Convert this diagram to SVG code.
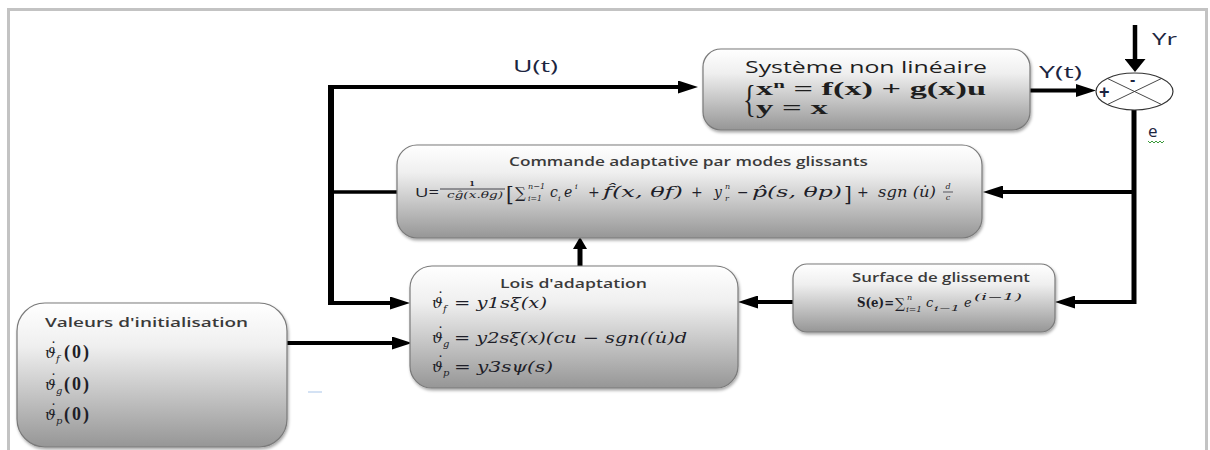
<svg xmlns="http://www.w3.org/2000/svg" width="1210" height="450" viewBox="0 0 1210 450">
<defs>
<linearGradient id="gb" x1="0" y1="0" x2="0" y2="1">
<stop offset="0" stop-color="#ffffff"/>
<stop offset="0.3" stop-color="#efefef"/>
<stop offset="1" stop-color="#969696"/>
</linearGradient>
<filter id="sh" x="-5%" y="-5%" width="112%" height="125%">
<feDropShadow dx="1" dy="2" stdDeviation="1.5" flood-color="#000" flood-opacity="0.35"/>
</filter>
<marker id="ah" markerUnits="userSpaceOnUse" viewBox="0 0 20 13" markerWidth="20" markerHeight="13" refX="0" refY="6.5" orient="auto">
<path d="M0,0 L20,6.5 L0,13 Z" fill="#000"/>
</marker>
<marker id="ahs" markerUnits="userSpaceOnUse" viewBox="0 0 12 14" markerWidth="12" markerHeight="14" refX="0" refY="7" orient="auto">
<path d="M0,0 L12,7 L0,14 Z" fill="#000"/>
</marker>
<marker id="ahw" markerUnits="userSpaceOnUse" viewBox="0 0 13 21" markerWidth="13" markerHeight="21" refX="0" refY="10.5" orient="auto">
<path d="M0,0 L13,10.5 L0,21 Z" fill="#000"/>
</marker>
</defs>
<style>
.box{fill:url(#gb);stroke:#7a7a7a;stroke-width:1.2;filter:url(#sh)}
.ln{fill:none;stroke:#000;stroke-width:4}
.ttl{font-family:"Open Sans","Liberation Sans",sans-serif;font-weight:600;fill:#3a3a3a;font-size:13px}
.m{font-family:"DejaVu Serif","Liberation Serif",serif;font-style:italic;fill:#1e1e28}
.r{font-family:"DejaVu Serif","Liberation Serif",serif;fill:#1e1e28}
.z{font-family:"Liberation Serif",serif;font-style:normal;font-weight:bold;font-size:18px;letter-spacing:2px}
.dot{font-style:normal}
.sb{font-size:10px}
.lbl{font-family:"Open Sans","Liberation Sans",sans-serif;fill:#1c2540;font-size:17px}
</style>

<rect x="8.5" y="9.5" width="1198" height="460" fill="none" stroke="#c3c3c3" stroke-width="3"/>

<g id="connectors">
<path class="ln" d="M331,85 V305" style="stroke-width:6"/>
<path class="ln" d="M328,87 H678" marker-end="url(#ah)"/>
<path class="ln" d="M331,192 H397" style="stroke-width:3.5"/>
<path class="ln" d="M331,303 H390" marker-end="url(#ah)"/>
<path class="ln" d="M287,343 H392" marker-end="url(#ah)"/>
<path class="ln" d="M580,266 V249" style="stroke-width:5" marker-end="url(#ahs)"/>
<path class="ln" d="M1030,90.5 H1076" marker-end="url(#ah)"/>
<path class="ln" d="M1135,25 V59" style="stroke-width:4.5" marker-end="url(#ahw)"/>
<path class="ln" d="M1134,110 V304" style="stroke-width:5"/>
<path class="ln" d="M1136,192 H1003" marker-end="url(#ah)"/>
<path class="ln" d="M1136,302 H1075" marker-end="url(#ah)"/>
<path class="ln" d="M793,302 H758" marker-end="url(#ah)"/>
</g>

<g id="labels">
<text class="lbl" x="513" y="72" textLength="45" lengthAdjust="spacingAndGlyphs">U(t)</text>
<text class="lbl" x="1039" y="78" textLength="43" lengthAdjust="spacingAndGlyphs">Y(t)</text>
<text class="lbl" x="1152" y="45" textLength="25" lengthAdjust="spacingAndGlyphs">Yr</text>
<text class="lbl" x="1148" y="137">e</text>
<polyline points="1148,141 1150,143 1152,141 1154,143 1156,141 1158,143 1160,141 1162,143 1164,141" fill="none" stroke="#3a9a3a" stroke-width="1"/>
<line x1="308" y1="392" x2="322" y2="392" stroke="#c6d9f0" stroke-width="1.5"/>
</g>

<g id="sum">
<ellipse cx="1134.5" cy="91.5" rx="38.5" ry="18.5" fill="#fff" stroke="#333" stroke-width="1.2"/>
<line x1="1107.3" y1="78.4" x2="1161.7" y2="104.6" stroke="#333" stroke-width="0.9"/>
<line x1="1107.3" y1="104.6" x2="1161.7" y2="78.4" stroke="#333" stroke-width="0.9"/>
<text x="1099" y="98" font-family="Liberation Sans, sans-serif" font-weight="bold" font-size="18" fill="#1c2540">+</text>
<text x="1130" y="85" font-family="Liberation Sans, sans-serif" font-weight="bold" font-size="16" fill="#1c2540">-</text>
</g>

<g id="sys">
<rect class="box" x="703" y="49" width="327" height="81" rx="18"/>
<text x="745" y="73" font-family="Open Sans, Liberation Sans, sans-serif" font-size="17" fill="#1e1e1e" textLength="242" lengthAdjust="spacingAndGlyphs">Système non linéaire</text>
<text x="743" y="112" font-family="Liberation Serif, serif" font-size="38" fill="#1e1e1e" transform="translate(743 112) scale(0.7 1) translate(-743 -112)">{</text>
<text x="756" y="95" font-family="Liberation Serif, serif" font-weight="bold" font-size="18" fill="#1e1e1e" textLength="230" lengthAdjust="spacingAndGlyphs">x<tspan font-size="11" dy="-7">n</tspan><tspan dy="7"> = f(x) +  g(x)u</tspan></text>
<text x="756" y="114" font-family="Liberation Serif, serif" font-weight="bold" font-size="18" fill="#1e1e1e" textLength="72" lengthAdjust="spacingAndGlyphs">y = x</text>
</g>

<g id="cmd">
<rect class="box" x="397" y="145" width="585" height="93" rx="20"/>
<text class="ttl" x="509" y="166" textLength="359" lengthAdjust="spacingAndGlyphs">Commande adaptative par modes glissants</text>
<text x="415" y="197" font-family="Open Sans, Liberation Sans, sans-serif" font-size="13" fill="#1e1e28" textLength="24" lengthAdjust="spacingAndGlyphs">U=</text>
<text class="r" x="472" y="186" font-size="8" font-weight="bold" text-anchor="middle">1</text>
<line x1="440" y1="189" x2="505" y2="189" stroke="#1e1e28" stroke-width="0.8"/>
<text class="m" x="447" y="198" font-size="8.5" textLength="56" lengthAdjust="spacingAndGlyphs">cĝ(x.θg)</text>
<text class="r" x="506" y="201" font-size="20">[</text>
<text class="r" x="515" y="198" font-size="15">∑</text>
<text class="m" x="528" y="189" font-size="8" textLength="17" lengthAdjust="spacingAndGlyphs">n−1</text>
<text class="m" x="528" y="201" font-size="8" textLength="14" lengthAdjust="spacingAndGlyphs">i=1</text>
<text class="m" x="550" y="197" font-size="14">c</text>
<text class="m" x="558" y="201" font-size="8">i</text>
<text class="m" x="564" y="197" font-size="14">e</text>
<text class="m" x="575" y="189" font-size="8">i</text>
<text class="r" x="588" y="197" font-size="14">+</text>
<text class="m" x="603" y="197" font-size="14" textLength="80" lengthAdjust="spacingAndGlyphs">f̂(x, θf)</text>
<text class="r" x="691" y="197" font-size="14">+</text>
<text class="m" x="714" y="197" font-size="14">y</text>
<text class="m" x="725" y="189" font-size="8">n</text>
<text class="m" x="725" y="201" font-size="8">r</text>
<text class="r" x="737" y="197" font-size="14">−</text>
<text class="m" x="752" y="197" font-size="14" textLength="90" lengthAdjust="spacingAndGlyphs">p̂(s, θp)</text>
<text class="r" x="844" y="201" font-size="20">]</text>
<text class="r" x="857" y="197" font-size="14">+</text>
<text class="m" x="878" y="197" font-size="14" textLength="58" lengthAdjust="spacingAndGlyphs">sgn (u̇)</text>
<text class="m" x="948" y="189" font-size="8" text-anchor="middle">d</text>
<line x1="943" y1="192" x2="953" y2="192" stroke="#1e1e28" stroke-width="0.7"/>
<text class="m" x="948" y="200" font-size="8" text-anchor="middle">c</text>
</g>

<g id="lois">
<rect class="box" x="410" y="266" width="328" height="122" rx="22"/>
<text class="ttl" x="500" y="288" textLength="147" lengthAdjust="spacingAndGlyphs">Lois d'adaptation</text>
<text class="m" x="432" y="308" font-size="15">ϑ<tspan class="dot" dx="-6" dy="-5">˙</tspan><tspan class="sb" x="443" y="312">f</tspan></text>
<text class="m" x="454" y="308" font-size="15" textLength="93" lengthAdjust="spacingAndGlyphs">= y1sξ(x)</text>
<text class="m" x="432" y="343" font-size="15">ϑ<tspan class="dot" dx="-6" dy="-5">˙</tspan><tspan class="sb" x="443" y="347">g</tspan></text>
<text class="m" x="454" y="343" font-size="15" textLength="233" lengthAdjust="spacingAndGlyphs">= y2sξ(x)(cu − sgn((u̇)d</text>
<text class="m" x="432" y="372" font-size="15">ϑ<tspan class="dot" dx="-6" dy="-5">˙</tspan><tspan class="sb" x="443" y="376">p</tspan></text>
<text class="m" x="454" y="372" font-size="15" textLength="99" lengthAdjust="spacingAndGlyphs">= y3sψ(s)</text>
</g>

<g id="surf">
<rect class="box" x="793" y="264" width="262" height="68" rx="14"/>
<text class="ttl" x="852" y="282" textLength="178" lengthAdjust="spacingAndGlyphs">Surface de glissement</text>
<text class="r" x="857" y="307" font-size="12" font-weight="bold" textLength="37" lengthAdjust="spacingAndGlyphs">S(e)=</text>
<text class="r" x="895" y="308" font-size="14">∑</text>
<text class="m" x="907" y="300" font-size="8">n</text>
<text class="m" x="906" y="312" font-size="8" textLength="16" lengthAdjust="spacingAndGlyphs">i=1</text>
<text class="m" x="926" y="307" font-size="13">c</text>
<text class="m" x="934" y="311" font-size="8" textLength="26" lengthAdjust="spacingAndGlyphs">i−1</text>
<text class="m" x="964" y="307" font-size="13">e</text>
<text class="m" x="974" y="300" font-size="9" textLength="48" lengthAdjust="spacingAndGlyphs">(i−1)</text>
</g>

<g id="init">
<rect class="box" x="17" y="303" width="270" height="144" rx="28"/>
<text class="ttl" x="45" y="327" font-size="14" fill="#333" textLength="203" lengthAdjust="spacingAndGlyphs">Valeurs d'initialisation</text>
<text class="m" x="45" y="358" font-size="15">ϑ<tspan class="dot" dx="-6" dy="-5">˙</tspan><tspan class="sb" x="56" y="362">f</tspan><tspan class="z" x="64" y="358">(0)</tspan></text>
<text class="m" x="45" y="390" font-size="15">ϑ<tspan class="dot" dx="-6" dy="-5">˙</tspan><tspan class="sb" x="56" y="394">g</tspan><tspan class="z" x="64" y="390">(0)</tspan></text>
<text class="m" x="45" y="420" font-size="15">ϑ<tspan class="dot" dx="-6" dy="-5">˙</tspan><tspan class="sb" x="56" y="424">p</tspan><tspan class="z" x="64" y="420">(0)</tspan></text>
</g>
</svg>
